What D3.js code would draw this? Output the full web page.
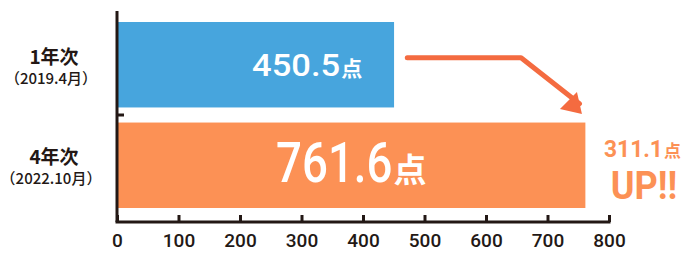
<!DOCTYPE html>
<html lang="ja">
<head>
<meta charset="utf-8">
<title>点数比較</title>
<style>
body { margin: 0; background: #fff; }
text { font-family: Roboto, "Noto Sans CJK JP", sans-serif; }
.axis path, .axis line { stroke: #231815; stroke-width: 3; fill: none; }
.axis text { font-size: 19px; font-weight: 500; fill: #231815; }
.cat { fill: #231815; font-family: "Noto Sans CJK JP", sans-serif; }
</style>
</head>
<body>
<div id="chart"></div>
<script src="https://d3js.org/d3.v7.min.js"></script>
<script>
  var categories = ["1年次", "4年次"];
  var subLabels = ["（2019.4月）", "（2022.10月）"];
  var scores = [450.5, 761.6];
  var ticks = [0, 100, 200, 300, 400, 500, 600, 700, 800];
  var colors = ["#47a5dd", "#fc9155"];

  var W = 691, H = 253;
  var svg = d3.select("#chart").append("svg")
    .attr("width", W).attr("height", H);

  var x = d3.scaleLinear().domain([0, 800]).range([117, 609]);
  var y = d3.scaleBand().domain(categories).range([22, 208]).paddingInner(0.15).paddingOuter(0);

  // bars
  svg.selectAll(".bar")
    .data(scores)
    .enter().append("rect")
    .attr("class", "bar")
    .attr("x", x(0))
    .attr("y", function(d, i) { return y(categories[i]); })
    .attr("width", function(d) { return x(d) - x(0); })
    .attr("height", y.bandwidth())
    .attr("fill", function(d, i) { return colors[i]; });

  // x axis
  var xAxis = svg.append("g").attr("class", "axis")
    .attr("transform", "translate(0,222)")
    .call(d3.axisBottom(x).tickValues(ticks).tickSize(-7).tickSizeOuter(0).tickPadding(12));
  xAxis.select(".domain").attr("d", "M" + (x(0) - 1.5) + ",0H" + (x(800) + 1.5));

  // y axis
  var yAxis = svg.append("g").attr("class", "axis")
    .attr("transform", "translate(" + x(0) + ",0)");
  var midY = (y(categories[0]) + y.bandwidth() + y(categories[1])) / 2;
  yAxis.append("line").attr("x1", 0).attr("x2", 0).attr("y1", 11).attr("y2", 222);
  yAxis.append("line").attr("x1", 0).attr("x2", 7).attr("y1", midY).attr("y2", midY);

  // category labels
  categories.forEach(function(c, i) {
    var cy = y(c) + y.bandwidth() / 2;
    svg.append("text").attr("class", "cat")
      .attr("x", 54).attr("y", cy - 1)
      .attr("text-anchor", "middle").style("font-size", "19px").style("font-weight", "bold").text(c);
    svg.append("text").attr("class", "cat")
      .attr("x", 51).attr("y", cy + 19)
      .attr("text-anchor", "middle").style("font-size", "15px").style("font-weight", "500")
      .text(subLabels[i]);
  });

  // number + 点, number squeezed horizontally by sx
  function drawValue(x0, base, str, size, sx, unitSize, fill, weight) {
    var g = svg.append("g").attr("transform", "translate(" + x0 + "," + base + ") scale(" + sx + ",1)");
    var t = g.append("text").attr("fill", fill)
      .style("font-size", size + "px").style("font-weight", weight).text(str);
    var w = t.node().getComputedTextLength() * sx;
    svg.append("text").attr("x", x0 + w + 1).attr("y", base).attr("fill", fill)
      .style("font-family", "'Noto Sans CJK JP', sans-serif")
      .style("font-size", unitSize + "px").style("font-weight", "bold").text("点");
  }

  var cy0 = y(categories[0]) + y.bandwidth() / 2;
  var cy1 = y(categories[1]) + y.bandwidth() / 2;
  drawValue(252, cy0 + 11, scores[0].toFixed(1), 32, 1.08, 21, "#fff", 500);
  drawValue(276, cy1 + 17, scores[1].toFixed(1), 55, 0.83, 33, "#fff", 500);

  // arrow
  var y1 = cy0 - 7;
  var arrowColor = "#f46b40";
  svg.append("path")
    .attr("d", "M" + x(472) + "," + y1 + "H" + x(657) + "L" + x(752) + "," + (y1 + 46))
    .attr("stroke", arrowColor).attr("stroke-width", 5).attr("fill", "none")
    .attr("stroke-linecap", "round").attr("stroke-linejoin", "round");
  var tip = [x(756), 114];
  svg.append("path")
    .attr("d", "M" + tip[0] + "," + tip[1] + "L" + (tip[0] - 22) + "," + (tip[1] - 5) + "L" + (tip[0] - 5) + "," + (tip[1] - 22) + "Z")
    .attr("fill", arrowColor);

  // difference annotation
  var diff = scores[1] - scores[0];
  drawValue(604, 157, diff.toFixed(1), 24, 0.95, 17, "#fc9155", "bold");
  svg.append("g").attr("transform", "translate(644,199) scale(0.95,1)")
    .append("text").attr("text-anchor", "middle").attr("fill", "#fc9155")
    .style("font-size", "38px").style("font-weight", "bold").text("UP!!");
</script>
</body>
</html>
